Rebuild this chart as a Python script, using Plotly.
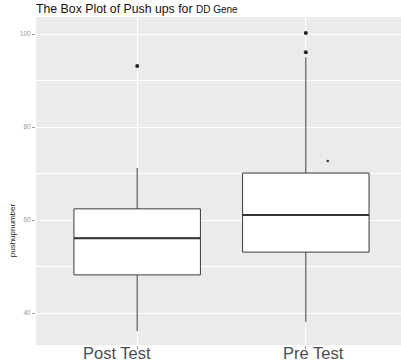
import plotly.graph_objects as go

categories = ["Post Test", "Pre Test"]
q1 = [48.2, 53.1]
median = [56.1, 61.1]
q3 = [62.4, 70.1]
lower_whisker = [36.1, 38.1]
upper_whisker = [71.2, 95.0]
outlier_group = [0, 1, 1]
outlier_values = [93.1, 100.2, 96.1]
stray_x = [1.13]
stray_y = [72.7]
y_ticks = [40, 60, 80, 100]

pos = list(range(len(categories)))
box_w = 0.75

fig = go.Figure()
fig.add_trace(go.Box(
    x=pos, q1=q1, median=median, q3=q3,
    lowerfence=lower_whisker, upperfence=upper_whisker,
    width=box_w, whiskerwidth=0,
    fillcolor="white", line=dict(color="#3a3a3a", width=1),
    boxpoints=False, showlegend=False, hoverinfo="skip",
))
# thicker median lines (ggplot style)
for i, m in zip(pos, median):
    fig.add_trace(go.Scatter(
        x=[i - box_w / 2, i + box_w / 2], y=[m, m], mode="lines",
        line=dict(color="#333333", width=2), showlegend=False, hoverinfo="skip",
    ))
fig.add_trace(go.Scatter(
    x=outlier_group, y=outlier_values, mode="markers",
    marker=dict(color="#222222", size=4), showlegend=False,
))
fig.add_trace(go.Scatter(
    x=stray_x, y=stray_y, mode="markers",
    marker=dict(color="#333333", size=2.5), showlegend=False,
))

annotations = [
    dict(text=categories[0], x=0, y=0, xref="x", yref="paper", yanchor="middle",
         xshift=-20, yshift=-8, showarrow=False,
         font=dict(size=16.5, color="#4d4d4d", family="Liberation Sans")),
    dict(text=categories[1], x=1, y=0, xref="x", yref="paper", yanchor="middle",
         xshift=8, yshift=-8, showarrow=False,
         font=dict(size=16.5, color="#4d4d4d", family="Liberation Sans")),
    dict(text="pushupnumber", x=0, xref="paper", xanchor="center", xshift=-24,
         y=57.8, yref="y", textangle=-90, showarrow=False,
         font=dict(size=8, color="#222222", family="Liberation Sans")),
    dict(text="The Box Plot of Push ups for <span style='font-size:10px'>DD Gene</span>",
         x=0, xref="paper", xanchor="left", xshift=-2,
         y=1, yref="paper", yanchor="middle", yshift=8, showarrow=False,
         font=dict(size=12.3, color="#111111", family="Liberation Sans")),
]

fig.update_layout(
    width=401, height=362,
    margin=dict(l=36, r=0, t=17, b=17, autoexpand=False),
    paper_bgcolor="white", plot_bgcolor="#EBEBEB",
    annotations=annotations,
    font=dict(family="Liberation Sans"),
)
fig.update_xaxes(
    range=[-0.6, 1.6 - 6 / 169], tickvals=pos, showticklabels=False,
    showgrid=True, gridcolor="white", gridwidth=1, automargin=False,
    ticks="outside", ticklen=3, tickcolor="#999999", zeroline=False,
)
fig.update_yaxes(
    range=[33.12, 103.66], tickvals=y_ticks, automargin=False,
    showgrid=True, gridcolor="white", gridwidth=1,
    minor=dict(dtick=10, tick0=0, showgrid=True, gridcolor="white", gridwidth=0.5),
    ticks="outside", ticklen=3, tickcolor="#999999",
    tickfont=dict(size=6.5, color="#999999"), zeroline=False,
)

fig.write_html("out.html", config={"displayModeBar": False},
               post_script="document.body.style.margin='0';document.body.style.overflow='hidden';")
